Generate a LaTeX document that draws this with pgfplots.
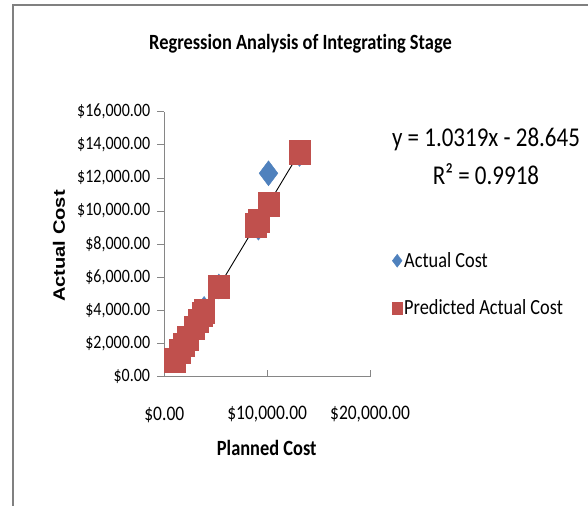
\documentclass[border=0pt]{standalone}
\usepackage{pgfplots}
\pgfplotsset{compat=1.18}
\usepackage{fontspec}
\setmainfont{Carlito}[Ligatures=NoCommon]
\newfontfamily\arialfont{Liberation Sans}
\definecolor{xlblue}{HTML}{4F81BD}
\definecolor{xlred}{HTML}{C0504D}
\definecolor{axgray}{HTML}{868686}
\definecolor{framegray}{HTML}{808080}

% planned cost, actual cost
\pgfplotstableread{
x y
1000 1100
1500 1450
1900 2050
2300 2200
2900 2800
3300 3560
3700 3700
3870 4090
5300 5450
8900 9260
9150 9000
10130 12280
13150 13450
}\actualdata
% planned cost, predicted = 1.0319x - 28.645
\pgfplotstableread{
x y
1000 1003.3
1500 1519.2
1900 1932.0
2300 2344.7
2900 2963.9
3300 3376.6
3700 3789.4
3870 3964.8
5300 5440.4
8900 9155.3
9150 9413.3
10130 10424.5
13150 13540.8
}\predicted

\begin{document}
\begin{tikzpicture}
\path[use as bounding box] (0,0) rectangle (588bp,506bp);
\draw[framegray, line width=2bp] (13bp,0) -- (13bp,501bp) -- (588bp,501bp);
\begin{axis}[
  at={(164.3bp,129.3bp)}, anchor=south west,
  scale only axis, width=205.7bp, height=265bp,
  xmin=0, xmax=20000, ymin=0, ymax=16000,
  scaled ticks=false,
  axis x line*=bottom, axis y line*=left,
  axis line style={axgray, line width=0.8bp},
  clip=false,
  tick align=inside, major tick length=7bp,
  every major tick/.append style={axgray, line width=0.8bp},
  every major y tick/.append style={xshift=-7bp},
  xtick={0,10000,20000},
  xticklabels={{\$0.00},{\$10,000.00},{\$20,000.00}},
  ytick={0,2000,...,16000},
  yticklabels={{\$0.00},{\$2,000.00},{\$4,000.00},{\$6,000.00},{\$8,000.00},{\$10,000.00},{\$12,000.00},{\$14,000.00},{\$16,000.00}},
  /pgf/number format/assume math mode=true,
  xticklabel style={font=\fontsize{17.5bp}{20bp}\selectfont, yscale=1.18, anchor=center, yshift=-32bp},
  yticklabel style={font=\fontsize{16bp}{19bp}\selectfont, yscale=1.18, anchor=east, inner sep=0pt, xshift=-14bp},
  title={Regression Analysis of Integrating Stage},
  every axis title/.style={at={(0.662,1.2555)}, anchor=center, font=\bfseries\fontsize{18.4bp}{22bp}\selectfont, yscale=1.18},
  xlabel={Planned Cost},
  every axis x label/.style={at={(0.498,-0.269)}, anchor=center, font=\bfseries\fontsize{18.4bp}{22bp}\selectfont, yscale=1.18},
  ylabel={Actual Cost},
  every axis y label/.style={at={(-0.512,0.493)}, anchor=center, rotate=90, xscale=1.22, font=\arialfont\bfseries\fontsize{16.5bp}{20bp}\selectfont},
  legend image code/.code={\draw[#1] plot coordinates {(0bp,0bp)};},
  legend cell align=left,
  legend style={at={(1.107,0.348)}, anchor=west, draw=none, fill=none, inner sep=0pt,
    font=\fontsize{18.3bp}{22bp}\selectfont, row sep=26bp,
    nodes={inner sep=2bp, yscale=1.18},
    /tikz/every even column/.append style={column sep=2bp}},
]
\addplot[only marks, mark=diamond*, mark size=12.5bp, color=xlblue,
  legend image post style={mark size=6.5bp}] table {\actualdata};
\addlegendentry{Actual Cost}
\addplot[only marks, mark=square*, mark size=10.3bp, mark options={yscale=1.15}, color=xlred,
  legend image post style={mark size=5bp}] table {\predicted};
\addlegendentry{Predicted Actual Cost}
\addplot[black, line width=0.9bp, no marks, forget plot] coordinates {(1000,1003.3) (13150,13540.8)};
\end{axis}
\node[font=\fontsize{23bp}{27bp}\selectfont, yscale=1.18] at (486bp,367bp) {y = 1.0319x - 28.645};
\node[font=\fontsize{23bp}{27bp}\selectfont, yscale=1.18] at (486bp,332bp) {R² = 0.9918};
\end{tikzpicture}
\end{document}
